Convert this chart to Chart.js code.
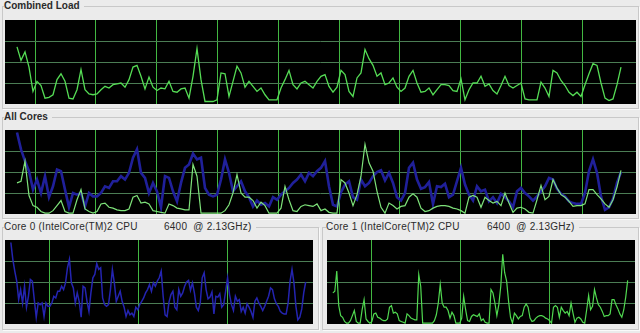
<!DOCTYPE html>
<html>
<head>
<meta charset="utf-8">
<script src="https://cdn.jsdelivr.net/npm/chart.js@4/dist/chart.umd.min.js"></script>
<style>
  html, body { margin: 0; padding: 0; }
  body { width: 640px; height: 333px; background: #ebebeb; overflow: hidden; position: relative;
         font-family: "Liberation Sans", "DejaVu Sans", sans-serif; color: #2a2a2a; }
  .box { position: absolute; border: 1px solid #c8c8c8; box-shadow: 1px 1px 0 #fafafa; }
  .title { position: absolute; font-size: 10px; line-height: 12px; background: #ebebeb; padding-right: 4px; white-space: pre; }
  .core { letter-spacing: 0.25px; }
  .bold { font-weight: bold; }
  canvas { position: absolute; background: #000; }
</style>
</head>
<body>
<div class="box" style="left:2px;top:6px;width:635px;height:101px;"></div>
<div class="title bold" style="left:4px;top:0px;">Combined Load</div>
<canvas id="combined" width="631" height="84" style="left:5px;top:20px;"></canvas>

<div class="box" style="left:2px;top:117px;width:635px;height:100px;"></div>
<div class="title bold" style="left:4px;top:111px;">All Cores</div>
<canvas id="allCores" width="631" height="84" style="left:5px;top:130px;"></canvas>

<div class="box" style="left:2px;top:227px;width:315px;height:101px;"></div>
<div class="title core" style="left:4px;top:221px;width:160px;">Core 0 (IntelCore(TM)2 CPU</div>
<div class="title core" style="left:164px;top:221px;">6400  @ 2.13GHz)</div>
<canvas id="core0" width="308" height="84" style="left:5px;top:240px;"></canvas>

<div class="box" style="left:322px;top:227px;width:315px;height:101px;"></div>
<div class="title core" style="left:326px;top:221px;width:160px;">Core 1 (IntelCore(TM)2 CPU</div>
<div class="title core" style="left:487px;top:221px;">6400  @ 2.13GHz)</div>
<canvas id="core1" width="308" height="84" style="left:327px;top:240px;"></canvas>

<script>
// load in percent, one sample per step
const combinedLoad = [68,52,62,44,15,27,22,7,8,11,29,36,27,7,6,17,41,17,12,11,
  12,17,21,19,23,24,25,20,29,44,46,33,18,32,20,16,19,18,27,15,
  14,18,19,7,33,66,29,3,3,3,5,37,36,9,27,45,37,20,27,21,
  15,19,11,5,5,5,19,29,40,23,18,25,27,23,19,27,33,35,21,14,
  20,40,35,15,9,31,37,65,54,46,33,37,23,25,31,20,15,19,33,40,
  25,14,15,19,11,17,23,23,22,16,15,30,5,17,25,25,33,21,24,16,
  12,22,33,22,19,22,25,6,5,5,5,26,19,9,40,37,28,22,14,10,
  14,9,23,36,48,46,25,7,4,6,23,44];

const core0Load = [97,77,63,51,29,41,25,45,20,33,53,51,29,8,25,23,25,9,25,21,
  21,25,33,31,39,39,45,41,49,67,77,49,43,25,37,27,8,45,
  43,27,15,37,55,59,72,65,67,31,23,21,23,41,65,49,27,33,39,27,
  20,9,16,11,13,9,20,17,23,27,31,37,41,47,39,49,45,51,55,
  63,33,11,9,26,35,39,20,17,41,33,37,45,50,52,40,49,37,20,16,
  25,55,61,41,30,32,38,12,33,32,36,20,23,39,55,35,23,16,
  33,27,29,15,20,13,24,20,15,8,27,31,25,21,16,21,27,33,43,41,
  30,24,21,15,13,12,12,25,51,65,49,21,5,8,18,37,50];

const core1Load = [37,39,63,22,10,8,3,1,1,4,10,16,3,1,1,17,29,6,3,1,
  3,12,13,8,7,5,4,4,6,20,22,13,14,12,4,3,2,1,
  12,10,7,6,5,5,59,45,1,1,1,1,1,1,4,11,25,47,25,20,
  20,16,7,14,10,1,1,1,7,33,17,4,3,9,11,10,9,12,4,
  6,2,1,1,41,37,25,10,23,45,83,61,51,27,8,1,13,10,6,9,
  10,20,24,20,7,3,4,7,9,10,10,9,7,6,4,1,20,
  22,20,8,20,16,13,15,10,25,13,2,7,8,6,2,1,17,34,17,21,
  41,31,23,20,15,9,10,10,12,29,29,23,18,12,8,17,32,52];

const yGrid = [25, 50, 75];
const wideGrid = [4.5, 19.7, 34.9, 50.1, 65.3, 80.5, 95.7, 110.9, 126.1, 141.3];
const narrowGrid = [19.7, 65.3, 110.9];
const xMin = -3, xMax = 154.75;

function toPoints(arr) {
    return arr.map((v, i) => ({ x: i, y: v }));
}

function makeChart(id, datasets, grid) {
    const ctx = document.getElementById(id).getContext("2d");
    return new Chart(ctx, {
        type: "line",
        data: { datasets: datasets },
        options: {
            responsive: false,
            animation: false,
            devicePixelRatio: 1,
            events: [],
            layout: { padding: 0 },
            elements: { point: { radius: 0 }, line: { tension: 0 } },
            plugins: { legend: { display: false }, tooltip: { enabled: false } },
            scales: {
                x: {
                    type: "linear", min: xMin, max: xMax,
                    border: { display: false },
                    ticks: { display: false },
                    grid: { color: "#42b842", lineWidth: 1, drawTicks: false },
                    afterBuildTicks: (s) => { s.ticks = grid.map((v) => ({ value: v })); },
                },
                y: {
                    min: 0, max: 100,
                    border: { display: false },
                    ticks: { display: false },
                    grid: { color: "#4b7d54", lineWidth: 1, drawTicks: false },
                    afterBuildTicks: (s) => { s.ticks = yGrid.map((v) => ({ value: v })); },
                },
            },
        },
    });
}

makeChart("combined", [
    { data: toPoints(combinedLoad), borderColor: "#55dc55", borderWidth: 1.3 },
], wideGrid);

// green is drawn on top of blue
makeChart("allCores", [
    { data: toPoints(core1Load), borderColor: "#7ee27a", borderWidth: 1.2 },
    { data: toPoints(core0Load), borderColor: "#20209a", borderWidth: 2.6 },
], wideGrid);

makeChart("core0", [
    { data: toPoints(core0Load), borderColor: "#2424b0", borderWidth: 1.5 },
], narrowGrid);

makeChart("core1", [
    { data: toPoints(core1Load), borderColor: "#50d850", borderWidth: 1.2 },
], narrowGrid);
</script>
</body>
</html>
